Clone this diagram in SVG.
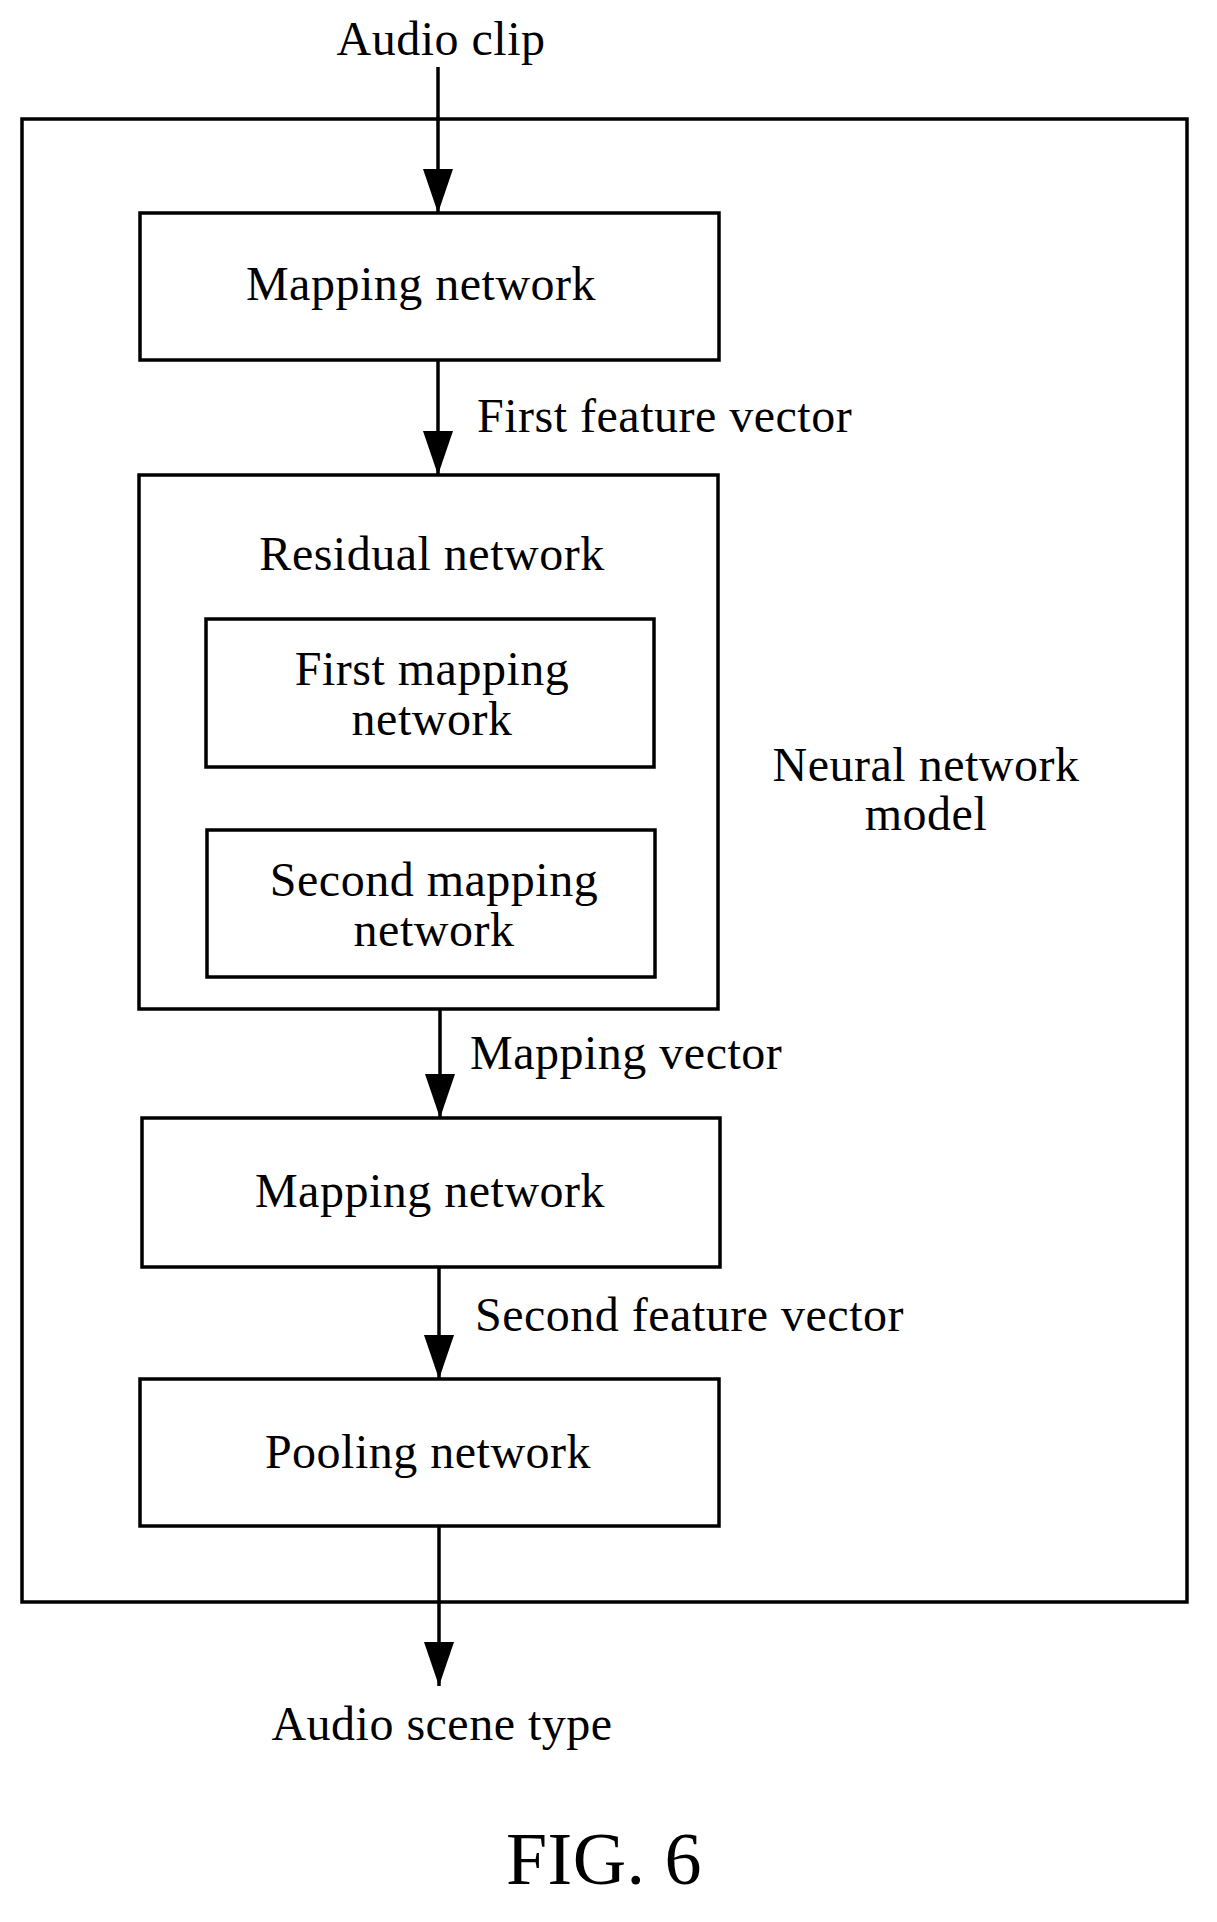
<svg xmlns="http://www.w3.org/2000/svg" width="1217" height="1922" viewBox="0 0 1217 1922">
<style>
.b{fill:none;stroke:#000;stroke-width:3.5}
.t{font-family:"Liberation Serif",serif;font-size:48px;letter-spacing:0.5px;fill:#000}
.m{text-anchor:middle}
.c{stroke:#000;stroke-width:3.5;fill:none}
</style>
<defs>
<marker id="d" markerUnits="userSpaceOnUse" markerWidth="44" markerHeight="30" refX="44" refY="15" orient="auto" viewBox="0 0 44 30"><path d="M0 0L44 15L0 30Z" fill="#000"/></marker></defs>
<g id="outer"><rect class="b" x="22" y="119" width="1165" height="1483"/><text class="t m" x="926" y="781">Neural network</text><text class="t m" x="926" y="830">model</text></g>
<g id="in"><text class="t m" x="441" y="55">Audio clip</text></g>
<g id="map1"><rect class="b" x="140" y="213" width="579" height="147"/><text class="t m" x="421" y="300">Mapping network</text></g>
<g id="res"><rect class="b" x="139" y="475" width="579" height="534"/><text class="t m" x="432" y="570">Residual network</text></g>
<g id="fm"><rect class="b" x="206" y="619" width="448" height="148"/><text class="t m" x="432" y="685">First mapping</text><text class="t m" x="432" y="735">network</text></g>
<g id="sm"><rect class="b" x="207" y="830" width="448" height="147"/><text class="t m" x="434" y="896">Second mapping</text><text class="t m" x="434" y="946">network</text></g>
<g id="map2"><rect class="b" x="142" y="1118" width="578" height="149"/><text class="t m" x="430" y="1207">Mapping network</text></g>
<g id="pool"><rect class="b" x="140" y="1379" width="579" height="147"/><text class="t m" x="428" y="1468">Pooling network</text></g>
<g id="out"><text class="t m" x="442" y="1740">Audio scene type</text></g>
<g id="connectors">
<line class="c" x1="438" y1="67" x2="438" y2="213" marker-end="url(#d)"/>
<line class="c" x1="438" y1="360" x2="438" y2="475" marker-end="url(#d)"/>
<text class="t" x="477" y="432">First feature vector</text>
<line class="c" x1="440" y1="1009" x2="440" y2="1118" marker-end="url(#d)"/>
<text class="t" x="470" y="1069">Mapping vector</text>
<line class="c" x1="439" y1="1267" x2="439" y2="1379" marker-end="url(#d)"/>
<text class="t" x="475" y="1331">Second feature vector</text>
<line class="c" x1="439" y1="1526" x2="439" y2="1686" marker-end="url(#d)"/>
</g>
<text class="t m" x="604" y="1884" style="font-size:74px">FIG. 6</text>
</svg>
